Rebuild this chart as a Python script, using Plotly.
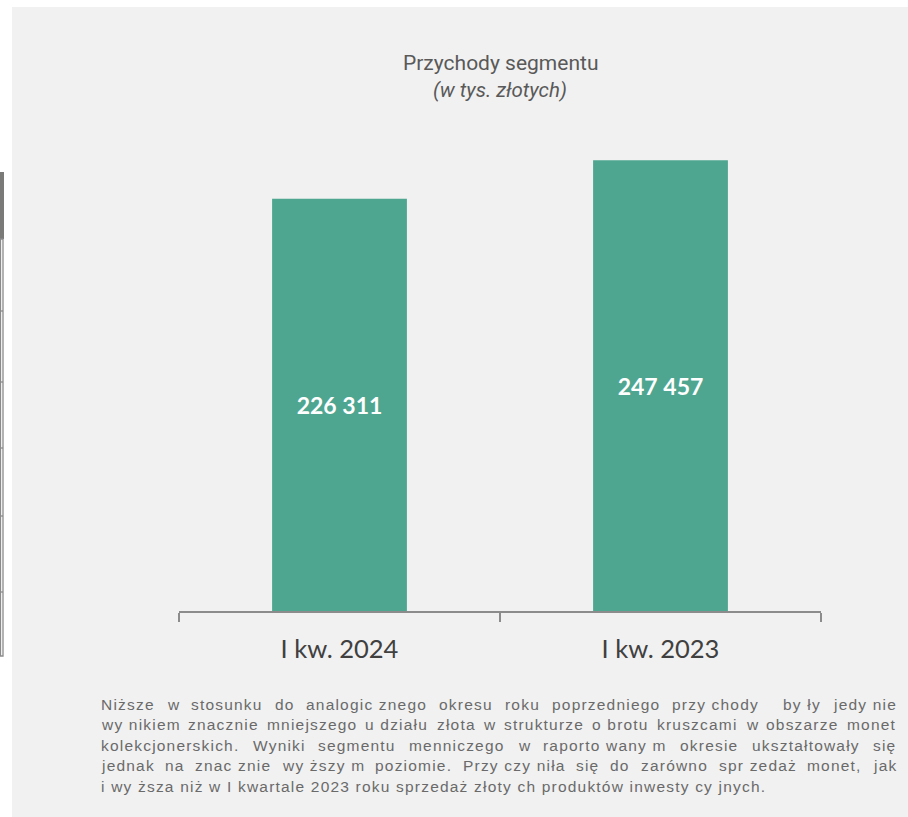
import plotly.graph_objects as go

# ---------------- data ----------------
categories = ["I kw. 2024", "I kw. 2023"]
revenues = [226311, 247457]
title_main = "Przychody segmentu"
title_sub = "(w tys. złotych)"

para_lines = [
    ["Niższe", "w", "stosunku", "do", "analogic znego", "okresu", "roku", "poprzedniego",
     "przy chody", "", "by ły", "jedy nie"],
    ["wy nikiem", "znacznie", "mniejszego", "u działu", "złota", "w", "strukturze",
     "o brotu", "kruszcami", "w", "obszarze", "monet"],
    ["kolekcjonerskich.", "Wyniki", "segmentu", "menniczego", "w", "raporto wany m",
     "okresie", "ukształtowały", "się"],
    ["jednak", "na", "znac znie", "wy ższy m", "poziomie.", "Przy czy niła", "się", "do",
     "zarówno", "spr zedaż", "monet,", "jak"],
]
para_last = "i wy ższa niż w I kwartale 2023 roku sprzedaż złoty ch produktów inwesty cy jnych."

# ---------------- geometry ----------------
W, H = 908, 817
ML, MR, MT, MB = 179, 87, 101, 206
PW = W - ML - MR
PH = H - MT - MB
BOTTOM = H - MB


def px_x(px):
    return (px - ML) / PW


def px_y(py):
    return (BOTTOM - py) / PH


# Arial / Liberation Sans advance widths (1/1000 em)
AW = {
    'a': 556, 'b': 556, 'c': 500, 'd': 556, 'e': 556, 'f': 278, 'g': 556, 'h': 556,
    'i': 222, 'j': 222, 'k': 500, 'l': 222, 'm': 833, 'n': 556, 'o': 556, 'p': 556,
    'q': 556, 'r': 333, 's': 500, 't': 278, 'u': 556, 'v': 500, 'w': 722, 'x': 500,
    'y': 500, 'z': 500, 'ą': 556, 'ć': 500, 'ę': 556, 'ł': 222, 'ń': 556, 'ó': 556,
    'ś': 500, 'ź': 500, 'ż': 500, 'A': 667, 'I': 278, 'N': 722, 'P': 667, 'W': 944,
    '.': 278, ',': 278, ' ': 278, '(': 333, ')': 333,
}
FS = 15.5
TRACK = 1.2


def text_w(s):
    return sum(AW.get(ch, 556 if ch.isdigit() else 600) for ch in s) / 1000 * FS + TRACK * len(s)


PARA_L, PARA_R = 101, 896
line_y = [704, 724.5, 745, 765.5, 786]
para_color = "#6a6a6a"
para_font = dict(family="Liberation Sans, Arial, sans-serif", size=FS, color=para_color)


def tracked(s):
    return f'<span style="letter-spacing:{TRACK}px">{s}</span>'


annotations = []
for li, words in enumerate(para_lines):
    widths = [text_w(wd) for wd in words]
    gap = (PARA_R - PARA_L - sum(widths)) / (len(words) - 1)
    x = PARA_L
    for wd, wdw in zip(words, widths):
        if wd:
            annotations.append(dict(
                text=tracked(wd), x=px_x(x - 2), y=px_y(line_y[li]), xref="paper", yref="paper",
                xanchor="left", yanchor="middle", showarrow=False, font=para_font))
        x += wdw + gap
annotations.append(dict(
    text=tracked(para_last), x=px_x(PARA_L - 2), y=px_y(line_y[4]), xref="paper", yref="paper",
    xanchor="left", yanchor="middle", showarrow=False, font=para_font))

annotations.append(dict(
    text=title_main, x=0.5, y=px_y(63), xref="paper", yref="paper", xanchor="center",
    yanchor="middle", showarrow=False, font=dict(family="Roboto", size=21, color="#595959")))
annotations.append(dict(
    text=f"<i>{title_sub}</i>", x=0.5, y=px_y(90), xref="paper", yref="paper", xanchor="center",
    yanchor="middle", showarrow=False, font=dict(family="Roboto", size=20.5, color="#595959")))

# ---------------- shapes (background panel + cropped table artefact at left edge) ----------------
shapes = [
    dict(type="rect", xref="paper", yref="paper", x0=px_x(12), x1=px_x(W + 5),
         y0=px_y(H + 5), y1=px_y(7), fillcolor="#f1f1f1", line=dict(width=0), layer="below"),
    dict(type="rect", xref="paper", yref="paper", x0=px_x(-1), x1=px_x(4),
         y0=px_y(239), y1=px_y(172), fillcolor="#7a7a78", line=dict(width=0), layer="below"),
    dict(type="rect", xref="paper", yref="paper", x0=px_x(0.5), x1=px_x(3),
         y0=px_y(656), y1=px_y(239), fillcolor="rgba(0,0,0,0)",
         line=dict(width=1.3, color="#8a8a8a"), layer="below"),
]
for hy in [311, 382, 448, 516, 592]:
    shapes.append(dict(type="line", xref="paper", yref="paper", x0=px_x(-1), x1=px_x(3),
                       y0=px_y(hy), y1=px_y(hy), line=dict(width=1.3, color="#8a8a8a"),
                       layer="below"))

# ---------------- figure ----------------
bar_labels = [f"{v:,}".replace(",", " ") for v in revenues]

fig = go.Figure(go.Bar(
    x=categories, y=revenues, text=bar_labels, width=0.42,
    marker=dict(color="#4ea691", line=dict(width=0)),
    textposition="inside", insidetextanchor="middle", textangle=0,
    constraintext="none",
    textfont=dict(family="Lato", size=23, color="white", weight="bold"),
    hoverinfo="skip",
))

fig.update_layout(
    width=W, height=H, autosize=False,
    margin=dict(l=ML, r=MR, t=MT, b=MB, pad=0),
    paper_bgcolor="white", plot_bgcolor="#f1f1f1",
    showlegend=False,
    annotations=annotations, shapes=shapes,
    xaxis=dict(type="category", range=[-0.5, 1.5], showgrid=False, zeroline=False,
               showline=True, linecolor="#8c8c8c", linewidth=1.5,
               ticks="outside", tickson="boundaries", ticklen=9, tickwidth=1.5,
               tickcolor="#8c8c8c", ticklabelstandoff=15,
               tickfont=dict(family="Lato", size=25.5, color="#404040")),
    yaxis=dict(visible=False, range=[0, 280000], showgrid=False, zeroline=False),
)

fig.write_html(
    "out.html",
    config={"displayModeBar": False},
    post_script="document.body.style.margin='0';document.body.style.overflow='hidden';",
)
